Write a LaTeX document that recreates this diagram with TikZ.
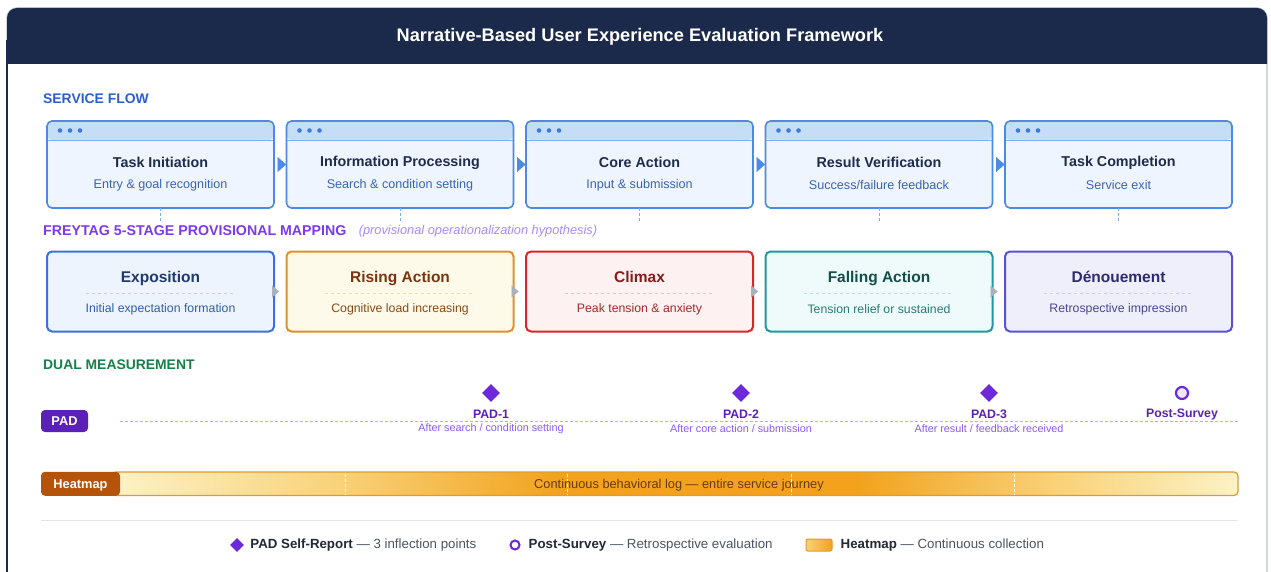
\documentclass[tikz,border=0pt]{standalone}
\usepackage{fontspec}
\setmainfont{Liberation Sans}
\usetikzlibrary{positioning,shapes.geometric,arrows.meta}

% palette
\definecolor{navy}{HTML}{1B2A4A}
\definecolor{cardline}{HTML}{B8C2D4}
\definecolor{svcline}{HTML}{4A8AE8}
\definecolor{svcfill}{HTML}{EEF5FE}
\definecolor{svchead}{HTML}{C6DDF8}
\definecolor{svcdot}{HTML}{3B7BE0}
\definecolor{svctxt}{HTML}{1E2B4D}
\definecolor{svcsubtxt}{HTML}{3A64B5}
\definecolor{secblue}{HTML}{2B5FCF}
\definecolor{secpurple}{HTML}{7C3AED}
\definecolor{secgreen}{HTML}{17804A}
\definecolor{notepurple}{HTML}{A78BFA}
\definecolor{linkblue}{HTML}{7AB0EC}
\definecolor{tipgray}{HTML}{A9B1BD}
% stage colours
\definecolor{line-ex}{HTML}{3B72D9}\definecolor{fill-ex}{HTML}{EEF4FD}
\definecolor{ttl-ex}{HTML}{1E3A6E}\definecolor{sub-ex}{HTML}{2F5FA8}\definecolor{dash-ex}{HTML}{C5D3E8}
\definecolor{line-ri}{HTML}{E0902A}\definecolor{fill-ri}{HTML}{FEFAEA}
\definecolor{ttl-ri}{HTML}{7A3410}\definecolor{sub-ri}{HTML}{8A4A16}\definecolor{dash-ri}{HTML}{F3DFA0}
\definecolor{line-cl}{HTML}{DC2626}\definecolor{fill-cl}{HTML}{FDF1F1}
\definecolor{ttl-cl}{HTML}{8B1A1A}\definecolor{sub-cl}{HTML}{A52A2A}\definecolor{dash-cl}{HTML}{F1C4C4}
\definecolor{line-fa}{HTML}{1C9AA0}\definecolor{fill-fa}{HTML}{EEFBFA}
\definecolor{ttl-fa}{HTML}{134E4A}\definecolor{sub-fa}{HTML}{2B7A78}\definecolor{dash-fa}{HTML}{B9E3E1}
\definecolor{line-de}{HTML}{5B4FD6}\definecolor{fill-de}{HTML}{EFEFFC}
\definecolor{ttl-de}{HTML}{2E2A6E}\definecolor{sub-de}{HTML}{4A4594}\definecolor{dash-de}{HTML}{CDCBEF}
% measurement colours
\definecolor{padpurple}{HTML}{6D28D9}
\definecolor{padbadgecol}{HTML}{5B21B6}
\definecolor{padsubtxt}{HTML}{8B5CF6}
\definecolor{padfill}{HTML}{EDE9FE}
\definecolor{padline}{HTML}{BBAAF2}
\definecolor{heatbrown}{HTML}{B45309}
\definecolor{heatline}{HTML}{E39A2B}
\definecolor{heatlo}{HTML}{FDF2C6}
\definecolor{heatmid}{HTML}{F9D27A}
\definecolor{heathi}{HTML}{F2A21C}
\definecolor{heattxt}{HTML}{6B3A10}
\definecolor{sepgray}{HTML}{E2E6EC}
\definecolor{lgdark}{HTML}{1F2937}
\definecolor{lggray}{HTML}{4B5563}

% heat gradient along the journey (path spans 25bp..75bp)
\pgfdeclarehorizontalshading{heatgrad}{100bp}{
  color(0bp)=(heatlo); color(25bp)=(heatlo); color(35bp)=(heatmid); color(45bp)=(heathi);
  color(58bp)=(heathi); color(67bp)=(heatmid); color(75bp)=(heatlo); color(100bp)=(heatlo)}

\newcommand\fsz[1]{\fontsize{#1}{#1}\selectfont}

\tikzset{
  svcbox/.style={draw=svcline, line width=1.6pt, fill=svcfill, rounded corners=5pt,
    minimum width=227pt, minimum height=87pt, inner sep=0pt, outer sep=0pt,
    path picture={
      \fill[svchead] (path picture bounding box.north west) rectangle ([yshift=-19pt]path picture bounding box.north east);
      \draw[svcline!70, line width=0.8pt] ([yshift=-19pt]path picture bounding box.north west) -- ([yshift=-19pt]path picture bounding box.north east);
      \foreach \dx in {13,23,33} \fill[svcdot] ([xshift=\dx pt,yshift=-9.5pt]path picture bounding box.north west) circle (2.3pt);
    }},
  svctitle/.style={font=\fsz{14.3}\bfseries, text=svctxt, inner sep=0pt},
  svcsub/.style={font=\fsz{12.6}, text=svcsubtxt, inner sep=0pt},
  flowtip/.style={svcline, line width=0.1pt, -{Triangle[length=8.5pt,width=15pt]}, shorten >=0.5pt, shorten <=3.5pt},
  vlink/.style={linkblue, dashed, dash pattern=on 3pt off 2pt, line width=0.9pt},
  stagebox/.style={line width=2pt, rounded corners=5pt, minimum width=227pt, minimum height=80pt,
    inner sep=0pt, outer sep=0pt},
  stagetitle/.style={font=\fsz{15.5}\bfseries, inner sep=0pt},
  stagesub/.style={font=\fsz{12.3}, inner sep=0pt},
  stagetip/.style={tipgray, line width=0.1pt, -{Triangle[length=7pt,width=12pt]}, shorten >=7.5pt, shorten <=-2pt},
  seclbl/.style={font=\fsz{13.9}\bfseries, inner sep=0pt, anchor=west},
  badge/.style={rounded corners=4pt, text=white, font=\fsz{12.8}\bfseries, inner sep=0pt,
    text height=9.2pt, text depth=0pt},
  padmark/.style={diamond, fill=padpurple, minimum width=18pt, minimum height=18pt, inner sep=0pt},
  padring/.style={circle, draw=padpurple, line width=2.2pt, fill=padfill, minimum size=12pt, inner sep=0pt},
  padlbl/.style={font=\fsz{12.3}\bfseries, text=padbadgecol, inner sep=0pt},
  padsub/.style={font=\fsz{10.8}, text=padsubtxt, inner sep=0pt},
  lgtext/.style={font=\fsz{13.3}, text=lggray, inner sep=0pt, anchor=west},
}

\begin{document}
\begin{tikzpicture}[x=1pt,y=-1pt]
  \useasboundingbox (0,0) rectangle (1271,572);
  \fill[white] (0,0) rectangle (1271,572);
  \clip (0,0) rectangle (1271,572);

  % card and header
  \draw[cardline, fill=white, line width=1.4pt, rounded corners=10pt] (7,8) rectangle (1267,640);
  \begin{scope}
    \clip[rounded corners=10pt] (7,8) rectangle (1267,640);
    \fill[navy] (6,7) rectangle (1268,64);
  \end{scope}
  \draw[navy, line width=2pt] (7,40) -- (7,600);
  \node[font=\fsz{18.2}\bfseries, text=white, inner sep=0pt] (title) at (640,37)
    {Narrative-Based User Experience Evaluation Framework};

  % service flow
  \node[seclbl, text=secblue] (lblsvc) at (43,99) {SERVICE FLOW};
  \foreach \i/\ttl/\sub in {1/Task Initiation/Entry \& goal recognition,
                            2/Information Processing/Search \& condition setting,
                            3/Core Action/Input \& submission,
                            4/Result Verification/{Success/failure feedback},
                            5/Task Completion/Service exit}{
    \node[svcbox] (s\i) at ({160.5+239.5*(\i-1)},164.5) {};
    \node[svctitle] (s\i t) at ([yshift=1.8pt]s\i.center) {\ttl};
    \node[svcsub] (s\i s) at ([yshift=-20.5pt]s\i.center) {\sub};
    \draw[vlink] (s\i.south) -- ++(0,14);
  }
  \foreach \i [evaluate=\i as \j using int(\i+1)] in {1,...,4}
    \draw[flowtip] (s\i.east) -- (s\j.west);

  % freytag mapping
  \node[seclbl, text=secpurple, font=\fsz{14.2}\bfseries] (lblfrey) at (43,231) {FREYTAG 5-STAGE PROVISIONAL MAPPING};
  \node[font=\fsz{12.8}\itshape, text=notepurple, inner sep=0pt, right=12pt of lblfrey] (note)
    {(provisional operationalization hypothesis)};
  \foreach \i/\ttl/\sub/\c in {1/Exposition/Initial expectation formation/ex,
                               2/Rising Action/Cognitive load increasing/ri,
                               3/Climax/Peak tension \& anxiety/cl,
                               4/Falling Action/Tension relief or sustained/fa,
                               5/Dénouement/Retrospective impression/de}{
    \node[stagebox, draw=line-\c, fill=fill-\c] (f\i) at ({160.5+239.5*(\i-1)},291.5) {};
    \node[stagetitle, text=ttl-\c, text height=11pt, text depth=0pt] (f\i t) at ([yshift=14.8pt]f\i.center) {\ttl};
    \draw[dash-\c, dashed, line width=0.8pt] ([xshift=-75pt,yshift=-1.5pt]f\i.center) -- ([xshift=75pt,yshift=-1.5pt]f\i.center);
    \node[stagesub, text=sub-\c] (f\i s) at ([yshift=-17.8pt]f\i.center) {\sub};
  }
  \foreach \i [evaluate=\i as \j using int(\i+1)] in {1,...,4}
    \draw[stagetip] (f\i.east) -- (f\j.west);

  % dual measurement
  \node[seclbl, text=secgreen] (lbldual) at (43,365) {DUAL MEASUREMENT};
  \node[badge, fill=padbadgecol, minimum width=47pt, minimum height=22pt] (pad) at (64.5,421) {PAD};
  \coordinate (padend) at (1238,421);
  \draw[padline, dashed, dash pattern=on 3pt off 2pt, line width=0.9pt] ([xshift=32pt]pad.east) -- (padend);
  \foreach \i/\x/\sub in {1/491/{After search / condition setting},
                          2/741/{After core action / submission},
                          3/989/{After result / feedback received}}{
    \node[padmark] (p\i) at (\x,393) {};
    \node[padlbl] (p\i t) at (\x,414.5) {PAD-\i};
    \node[padsub] (p\i s) at (\x,428.5) {\sub};
  }
  \node[padring] (ps) at (1182,393) {};
  \node[padlbl] (pst) at (1182,414.5) {Post-Survey};

  % heatmap bar
  \node[draw=heatline, line width=1.2pt, rounded corners=4pt, shading=heatgrad,
        minimum width=1126pt, minimum height=23.5pt, inner sep=0pt] (hbar) at (675,483.75) {};
  \foreach \x in {345,567,791,1014}
    \draw[white, dashed, dash pattern=on 3pt off 2pt, line width=0.8pt] (\x,473.5) -- (\x,494);
  \node[badge, fill=heatbrown, minimum width=79pt, minimum height=24pt] (heat) at (80.5,483.75) {Heatmap};
  \node[font=\fsz{12.8}, text=heattxt, inner sep=0pt, text height=9.2pt, text depth=0pt] (hbart) at (679,484)
    {Continuous behavioral log — entire service journey};

  % legend
  \draw[sepgray, line width=1pt] (41,520) -- (1238,520);
  \node[padmark, minimum width=14pt, minimum height=14pt] (lg1) at (237,545) {};
  \node[lgtext, right=6pt of lg1] (lg1t) {\textcolor{lgdark}{\bfseries PAD Self-Report} — 3 inflection points};
  \node[padring, minimum size=9pt, line width=2pt, fill=white] (lg2) at (515,545) {};
  \node[lgtext, right=8pt of lg2] (lg2t) {\textcolor{lgdark}{\bfseries Post-Survey} — Retrospective evaluation};
  \node[draw=heatline, line width=1pt, rounded corners=2pt, left color=heatmid, right color=heathi,
        minimum width=26pt, minimum height=12pt, inner sep=0pt] (lg3) at (819,545) {};
  \node[lgtext, right=8pt of lg3] (lg3t) {\textcolor{lgdark}{\bfseries Heatmap} — Continuous collection};
\end{tikzpicture}
\end{document}
